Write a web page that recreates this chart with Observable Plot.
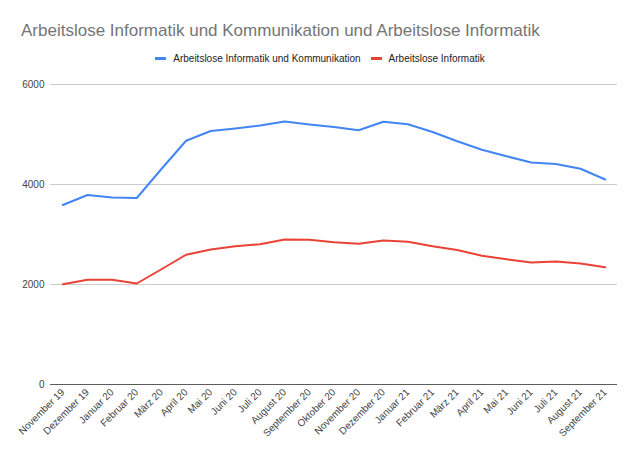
<!DOCTYPE html>
<html><head><meta charset="utf-8">
<script src="https://cdn.jsdelivr.net/npm/d3@7"></script>
<script src="https://cdn.jsdelivr.net/npm/@observablehq/plot@0.6"></script>
<style>
body{margin:0;background:#fff;font-family:"Liberation Sans",Arial,sans-serif;}
#wrap{width:640px;height:461px;position:relative;overflow:hidden;}
#title{position:absolute;left:21px;top:21px;font-size:17px;line-height:20px;color:#757575;white-space:nowrap;}
#legend{position:absolute;left:0;width:640px;top:52px;text-align:center;font-size:10px;line-height:14px;color:#222;white-space:nowrap;}
.sw{display:inline-block;width:11px;height:3px;vertical-align:middle;margin-right:7px;position:relative;top:-1px;}
.it{display:inline-block;margin:0 5px;}
#chart{position:absolute;left:0;top:70px;}
</style></head>
<body><div id="wrap">
<div id="title">Arbeitslose Informatik und Kommunikation und Arbeitslose Informatik</div>
<div id="legend"></div>
<div id="chart"></div>
</div>
<script>
const months = ["November 19","Dezember 19","Januar 20","Februar 20","März 20","April 20","Mai 20","Juni 20","Juli 20","August 20","September 20","Oktober 20","November 20","Dezember 20","Januar 21","Februar 21","März 21","April 21","Mai 21","Juni 21","Juli 21","August 21","September 21"];
const seriesNames = ["Arbeitslose Informatik und Kommunikation","Arbeitslose Informatik"];
const colors = ["#4285F4","#EA4335"];
const informatikKommunikation = [3590,3790,3740,3730,4310,4875,5070,5120,5180,5260,5200,5150,5085,5255,5205,5050,4865,4695,4565,4440,4410,4315,4100];
const informatik = [2005,2095,2095,2020,2305,2595,2700,2765,2805,2900,2895,2845,2815,2880,2855,2765,2690,2575,2505,2440,2460,2420,2345];
const yTicks = [0,2000,4000,6000];

const data = [];
months.forEach((m,i)=>{
  data.push({month:m, value:informatikKommunikation[i], series:seriesNames[0]});
  data.push({month:m, value:informatik[i], series:seriesNames[1]});
});

const leg = document.getElementById("legend");
seriesNames.forEach((s,i)=>{
  const it = document.createElement("span"); it.className="it";
  it.innerHTML = `<span class="sw" style="background:${colors[i]}"></span>${s}`;
  leg.appendChild(it);
});

const chart = Plot.plot({
  width:640, height:391,
  marginLeft:50, marginRight:23, marginTop:14, marginBottom:77,
  style:{fontFamily:"'Liberation Sans', Arial, sans-serif", fontSize:"10px", color:"#444"},
  x:{type:"point", domain:months, padding:0.5, round:false, label:null},
  y:{domain:[0,6000], ticks:yTicks, label:null},
  color:{domain:seriesNames, range:colors},
  marks:[
    Plot.gridY(yTicks.filter(d=>d>0), {stroke:"#ccc", strokeOpacity:1, strokeWidth:1}),
    Plot.ruleY([0], {stroke:"#333", strokeOpacity:0.8}),
    Plot.line(data, {x:"month", y:"value", z:"series", stroke:"series", strokeWidth:2}),
    Plot.axisY({ticks:yTicks, tickSize:0, tickPadding:6, label:null, tickFormat:d=>String(d), fill:"#444"}),
    Plot.axisX({tickRotate:-45, tickSize:0, tickPadding:6, label:null, fill:"#444"})
  ]
});
document.getElementById("chart").appendChild(chart);
</script>
</body></html>
